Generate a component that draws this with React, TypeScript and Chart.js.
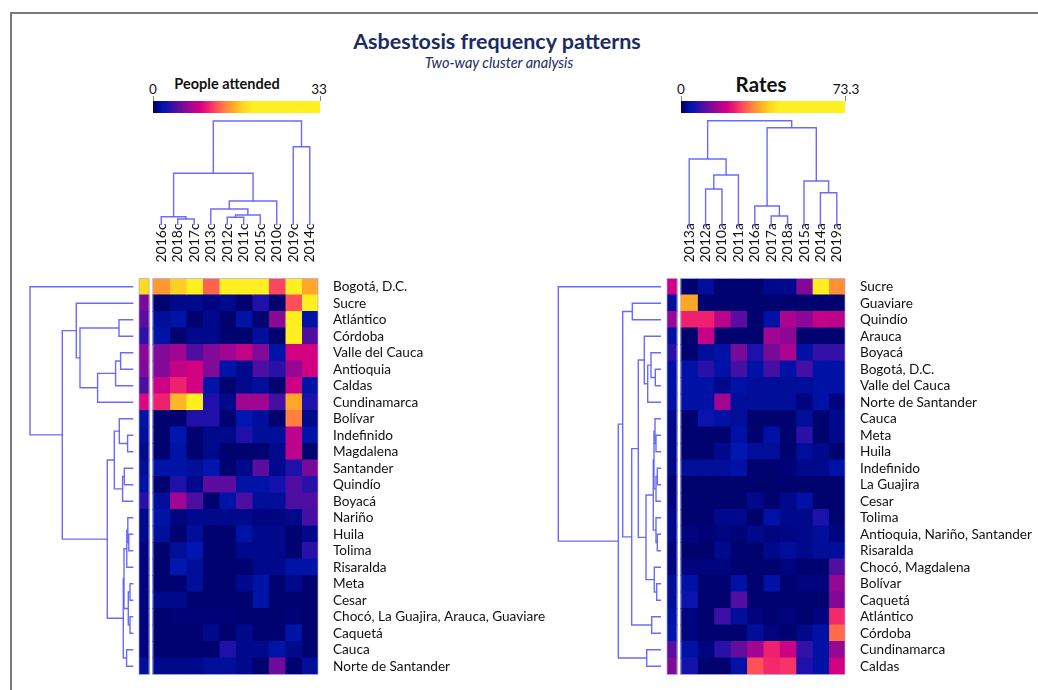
import React, { useEffect, useRef } from "react";
import { Chart, registerables } from "chart.js";

Chart.register(...registerables);
Chart.defaults.font.family = "Lato, 'DejaVu Sans', sans-serif";

// ---------------- DATA ----------------
const peopleRows = [
  "Bogotá, D.C.", "Sucre", "Atlántico", "Córdoba", "Valle del Cauca", "Antioquia", "Caldas",
  "Cundinamarca", "Bolívar", "Indefinido", "Magdalena", "Santander", "Quindío", "Boyacá", "Nariño",
  "Huila", "Tolima", "Risaralda", "Meta", "Cesar", "Chocó, La Guajira, Arauca, Guaviare", "Caquetá",
  "Cauca", "Norte de Santander",
];
const peopleCols = ["2016c", "2018c", "2017c", "2013c", "2012c", "2011c", "2015c", "2010c", "2019c", "2014c"];
const peopleMax = 33;
const peopleRowSummary = [18.2, 5.9, 5, 3.6, 6.6, 6.3, 4.6, 9.6, 1.7, 1.3, 1, 1.3, 1.7, 3.3, 1, 1, 0.7, 0.7, 0.7, 0.7, 0.7, 0.7, 0.7, 1.3];
const peopleValues = [
  [15.2, 17.5, 21, 13.2, 24, 26, 23, 12.2, 22, 15.8],
  [0.3, 1, 1, 0.7, 1, 0.3, 3, 0.3, 12.5, 21],
  [1.3, 1.7, 0.3, 1, 0.3, 1.7, 0.3, 6.6, 22, 1.7],
  [1.7, 0.3, 1, 1, 0.3, 0.3, 1.3, 0.3, 21, 4.6],
  [6.3, 7.3, 4.6, 6.3, 7.3, 8.6, 6.3, 1.7, 9.2, 9.2],
  [6.3, 8.6, 9.2, 6.3, 1.7, 1, 4.6, 3.3, 6.9, 9.2],
  [8.9, 10.9, 9.2, 1.7, 0.3, 1, 1.3, 0.3, 8.9, 1.7],
  [10.9, 16.5, 20, 3, 1, 7.3, 7.3, 4.3, 15.8, 3],
  [0.3, 0.3, 3, 3, 0.3, 2, 1.3, 0.3, 14.2, 1],
  [0.3, 2, 0.3, 1, 1, 3, 1.3, 1.3, 8.3, 1.7],
  [0.3, 1.7, 0.3, 1, 0.3, 0.3, 0.3, 1, 8.3, 0.3],
  [1.7, 1.7, 1.3, 2, 0.3, 1, 5, 1, 3, 5.9],
  [0.3, 3, 1, 5, 5, 1.7, 1.7, 2.6, 4.6, 3.3],
  [1.3, 7.3, 4.6, 0.3, 1.7, 4.6, 1.3, 1.3, 4.6, 4.6],
  [1.7, 0.7, 1, 1, 1, 1, 0.7, 0.7, 1, 4.3],
  [1.3, 0.3, 1.3, 0.3, 0.3, 1.7, 1, 1, 0.3, 1],
  [0.3, 1.3, 2, 0.3, 0.3, 1, 1, 1, 0.3, 3.3],
  [0.3, 2, 1.3, 0.3, 0.3, 0.3, 1, 1, 1.7, 1.7],
  [0.3, 0.3, 1.3, 0.3, 0.3, 1, 1.7, 0.3, 1, 0.3],
  [1, 1, 0.3, 0.3, 0.3, 0.3, 1.7, 0.3, 0.3, 0.3],
  [0.3, 0.5, 0.5, 0.5, 0.5, 0.3, 0.3, 0.3, 0.5, 0.3],
  [0.3, 0.3, 0.3, 1, 0.2, 1, 0.3, 0.3, 1.7, 0.3],
  [0.3, 0.3, 0.3, 0.3, 3, 1, 1, 1.7, 1, 0.3],
  [1, 1, 1, 1.3, 1.3, 1, 0.3, 5.6, 0.3, 1.3],
];

const rateRows = [
  "Sucre", "Guaviare", "Quindío", "Arauca", "Boyacá", "Bogotá, D.C.", "Valle del Cauca",
  "Norte de Santander", "Cauca", "Meta", "Huila", "Indefinido", "La Guajira", "Cesar", "Tolima",
  "Antioquia, Nariño, Santander", "Risaralda", "Chocó, Magdalena", "Bolívar", "Caquetá", "Atlántico",
  "Córdoba", "Cundinamarca", "Caldas",
];
const rateCols = ["2013a", "2012a", "2010a", "2011a", "2016a", "2017a", "2018a", "2015a", "2014a", "2019a"];
const rateMax = 73.3;
const rateRowSummary = [19.8, 2.9, 15.4, 3.7, 7.3, 3.7, 3.7, 3.7, 2.2, 2.2, 2.2, 2.2, 1.1, 1.5, 2.2, 2.2, 1.5, 1.5, 2.9, 2.9, 3.7, 4.4, 11, 13.9];
const rateValues = [
  [0.7, 2.9, 0.7, 0.7, 0.7, 2.2, 2.2, 13.9, 45, 33],
  [35.2, 0.7, 0.7, 0.7, 0.7, 0.7, 0.7, 0.7, 0.7, 0.7],
  [24.2, 24.2, 18.3, 11, 0.7, 3.7, 16.9, 14.7, 19.1, 18.3],
  [0.7, 19.1, 0.7, 0.7, 0.7, 16.1, 14.7, 0.7, 0.7, 0.7],
  [0.7, 2.9, 3.7, 13.2, 6.6, 13.2, 16.9, 3.7, 8.1, 8.1],
  [3.7, 7.3, 3.7, 9.5, 3.7, 9.5, 3.7, 9.5, 3.7, 3.7],
  [3.7, 3.7, 2.2, 3.7, 2.9, 2.9, 2.9, 2.9, 3.7, 3.7],
  [3.7, 3.7, 16.1, 2.9, 2.9, 2.9, 2.9, 1.5, 3.7, 1.5],
  [0.7, 5.1, 3.7, 2.9, 0.7, 0.7, 0.7, 2.9, 0.7, 2.2],
  [0.7, 0.7, 0.7, 3.7, 0.7, 3.7, 0.7, 7.3, 0.7, 2.2],
  [0.7, 0.7, 2.2, 4.4, 2.9, 2.9, 0.7, 2.9, 2.2, 0.7],
  [2.9, 2.9, 2.9, 3.7, 0.7, 0.7, 1.1, 2.2, 2.2, 3.7],
  [0.6, 0.6, 0.6, 0.6, 0.6, 0.6, 0.6, 0.6, 0.6, 0.6],
  [0.7, 0.7, 0.7, 0.7, 2.2, 0.7, 2.2, 3.7, 0.7, 0.7],
  [0.7, 0.7, 2.2, 2.2, 0.4, 3.7, 2.2, 2.2, 6.6, 0.7],
  [1.5, 1.1, 1.5, 1.1, 2.2, 1.5, 1.8, 2.2, 2.9, 1.5],
  [0.4, 0.4, 2.2, 0.7, 0.7, 2.2, 2.9, 2.2, 2.9, 2.9],
  [1.5, 1.5, 1.5, 0.7, 0.7, 0.7, 1.5, 0.7, 0.7, 10.3],
  [3.7, 0.7, 0.7, 3.7, 0.7, 3.7, 0.7, 1.5, 1.5, 15.4],
  [5.1, 0.7, 0.7, 10.3, 0.7, 0.7, 0.7, 0.7, 0.7, 13.9],
  [1.5, 0.7, 8.8, 2.9, 1.5, 0.7, 1.5, 0.7, 1.5, 24.9],
  [1.5, 0.7, 0.7, 0.7, 2.9, 1.5, 0.7, 2.2, 3.7, 30],
  [3.7, 1.5, 7.3, 11.7, 16.1, 24.2, 19.8, 8.1, 3.7, 15.4],
  [5.9, 0.7, 0.7, 3.7, 27.9, 24.9, 25.7, 6.6, 3.7, 20.5],
];

// Dendrograms: [left, right, mergeHeight]; numbers are leaf positions in display order
type Node = number | [Node, Node, number];

const peopleColTree: Node = [
  [[0, [1, 2, 6], 8.3], [[3, [[4, 5, 7.7], 6, 10], 16], 7, 24], 51.7],
  [8, 9, 78.3],
  104,
];
const rateColTree: Node = [
  [0, [[1, 2, 37.7], 3, 51.7], 67.7],
  [[4, [5, 6, 10.7], 20.7], [7, [8, 9, 34], 45.7], 99],
  106,
];
const peopleRowTree: Node = [
  0,
  [
    [1, [[2, 3, 14.3], [[[4, 5, 12.7], 6, 17.7], 7, 35.7], 53.3], 57],
    [
      [[8, [9, 10, 5.7], 14], [[11, 12, 9], 13, 10.7], 19],
      [[[[14, [15, 16, 4.5], 5.5], 17, 6.5], [[18, 19, 3.3], [20, 21, 3.3], 5], 9.3], [22, 23, 6.7], 10],
      26,
    ],
    71,
  ],
  103.3,
];
const rateRowTree: Node = [
  0,
  [
    [
      [1, 2, 28.7],
      [
        [
          [3, [[4, [5, 6, 5.7], 10], 7, 13.3], 16.7],
          [
            [[[8, [9, 10, 5], 6], [[11, 12, 3.7], 13, 5], 7], [14, [15, 16, 3.7], 5], 7.7],
            [17, [18, 19, 4.3], 6.7],
            15,
          ],
          22.7,
        ],
        [20, 21, 9.3],
        29.3,
      ],
      38.3,
    ],
    [22, 23, 14.3],
    42.7,
  ],
  102.7,
];

// ---------------- COLOURS ----------------
const STOPS: [number, number[]][] = [
  [0, [0, 0, 100]],
  [0.02, [0, 4, 125]],
  [0.04, [0, 14, 155]],
  [0.06, [0, 22, 175]],
  [0.09, [30, 16, 170]],
  [0.12, [60, 16, 165]],
  [0.16, [100, 12, 158]],
  [0.2, [140, 8, 150]],
  [0.24, [180, 4, 142]],
  [0.28, [212, 0, 130]],
  [0.33, [240, 32, 112]],
  [0.38, [255, 80, 90]],
  [0.43, [255, 128, 64]],
  [0.48, [255, 168, 40]],
  [0.54, [255, 215, 32]],
  [0.6, [255, 238, 32]],
  [1, [255, 240, 32]],
];
function colorAt(t: number): string {
  const v = Math.max(0, Math.min(1, t));
  for (let i = 1; i < STOPS.length; i++) {
    const [t1, c1] = STOPS[i];
    const [t0, c0] = STOPS[i - 1];
    if (v <= t1) {
      const f = (v - t0) / (t1 - t0 || 1);
      const c = c0.map((x, k) => Math.round(x + (c1[k] - x) * f));
      return `rgb(${c[0]},${c[1]},${c[2]})`;
    }
  }
  const c = STOPS[STOPS.length - 1][1];
  return `rgb(${c[0]},${c[1]},${c[2]})`;
}
const gradientCss =
  "linear-gradient(to right, " + STOPS.map(([t]) => `${colorAt(t)} ${(t * 100).toFixed(1)}%`).join(", ") + ")";

const FONT = "Lato, 'DejaVu Sans', sans-serif";
const LINE_COLOR = "rgba(90,90,255,0.9)";
const TEXT_COLOR = "#111";
const TITLE_COLOR = "#1b2b63";
const SUM_X0 = -0.85;
const SUM_X1 = -0.245;

// ---------------- CHART BUILDERS ----------------
type Pt = { pos: number; h: number };
function buildLinks(node: Node, out: Pt[][]): Pt {
  if (typeof node === "number") return { pos: node + 0.5, h: 0 };
  const a = buildLinks(node[0], out);
  const b = buildLinks(node[1], out);
  out.push([a, { pos: a.pos, h: node[2] }, { pos: b.pos, h: node[2] }, b]);
  return { pos: (a.pos + b.pos) / 2, h: node[2] };
}

function dendroConfig(tree: Node, nLeaves: number, orient: "top" | "left", padding: any) {
  const links: Pt[][] = [];
  const root = buildLinks(tree, links);
  const datasets = links.map((pts) => ({
    data: pts.map((p) => (orient === "top" ? { x: p.pos, y: p.h } : { x: p.h, y: p.pos })),
    showLine: true,
    borderColor: LINE_COLOR,
    borderWidth: 1.4,
    pointRadius: 0,
    pointHoverRadius: 0,
    fill: false,
    tension: 0,
    clip: false,
  }));
  const scales =
    orient === "top"
      ? {
          x: { type: "linear", display: false, min: 0, max: nLeaves },
          y: { type: "linear", display: false, min: 0, max: root.h },
        }
      : {
          x: { type: "linear", display: false, min: 0, max: root.h, reverse: true },
          y: { type: "linear", display: false, min: 0, max: nLeaves, reverse: true },
        };
  return {
    type: "scatter",
    data: { datasets },
    options: {
      animation: false,
      responsive: false,
      devicePixelRatio: 1,
      events: [],
      layout: { padding },
      plugins: { legend: { display: false }, tooltip: { enabled: false } },
      scales,
    },
  };
}

function heatmapConfig(
  rows: string[],
  cols: string[],
  values: number[][],
  summary: number[],
  max: number,
  yAxisWidth: number
) {
  const common = {
    grouped: false,
    barPercentage: 1,
    categoryPercentage: 1,
    borderWidth: 0,
    inflateAmount: 0.5,
  };
  const datasets: any[] = [
    {
      ...common,
      data: rows.map(() => [SUM_X0, SUM_X1]),
      backgroundColor: summary.map((v) => colorAt(v / max)),
    },
  ];
  cols.forEach((_, j) => {
    datasets.push({
      ...common,
      data: rows.map(() => [j, j + 1]),
      backgroundColor: rows.map((_, i) => colorAt(values[i][j] / max)),
    });
  });
  const decor = {
    id: "decor",
    afterDraw(chart: any) {
      const { ctx, chartArea, scales } = chart;
      ctx.save();
      ctx.strokeStyle = "rgba(170,170,235,0.7)";
      ctx.lineWidth = 1;
      const x0 = scales.x.getPixelForValue(SUM_X0);
      const x1 = scales.x.getPixelForValue(SUM_X1);
      const x2 = scales.x.getPixelForValue(0);
      const x3 = scales.x.getPixelForValue(cols.length);
      ctx.strokeRect(x0, chartArea.top, x1 - x0, chartArea.bottom - chartArea.top);
      ctx.strokeRect(x2, chartArea.top, x3 - x2, chartArea.bottom - chartArea.top);
      // column labels, rotated, read bottom to top
      ctx.fillStyle = TEXT_COLOR;
      ctx.font = `14px ${FONT}`;
      ctx.textAlign = "left";
      ctx.textBaseline = "middle";
      cols.forEach((c, j) => {
        const x = scales.x.getPixelForValue(j + 0.5);
        ctx.save();
        ctx.translate(x, chartArea.top - 16);
        ctx.rotate(-Math.PI / 2);
        ctx.fillText(c, 0, 0);
        ctx.restore();
      });
      ctx.restore();
    },
  };
  return {
    type: "bar",
    data: { labels: rows, datasets },
    plugins: [decor],
    options: {
      indexAxis: "y",
      animation: false,
      responsive: false,
      devicePixelRatio: 1,
      events: [],
      layout: { padding: { left: 9, right: 0, top: 78.5, bottom: 5.5 } },
      plugins: { legend: { display: false }, tooltip: { enabled: false } },
      scales: {
        x: {
          type: "linear",
          display: false,
          min: SUM_X0,
          max: cols.length,
        },
        y: {
          type: "category",
          position: "right",
          grid: { display: false, drawTicks: false },
          border: { display: false },
          afterFit: (s: any) => {
            s.width = yAxisWidth;
            s.paddingTop = 0;
            s.paddingBottom = 0;
          },
          ticks: { autoSkip: false, padding: 15, color: TEXT_COLOR, font: { size: 13.6 } },
        },
      },
    },
  };
}

// ---------------- COMPONENTS ----------------
function ChartBox(props: { left: number; top: number; width: number; height: number; make: () => any }) {
  const ref = useRef<HTMLCanvasElement>(null);
  useEffect(() => {
    const chart = new Chart(ref.current as HTMLCanvasElement, props.make());
    return () => chart.destroy();
  }, []);
  return (
    <canvas
      ref={ref}
      width={props.width}
      height={props.height}
      style={{ position: "absolute", left: props.left, top: props.top, width: props.width, height: props.height }}
    />
  );
}

function Label(props: { cx: number; cy: number; text: string; size: number; bold?: boolean; italic?: boolean; color?: string }) {
  const h = props.size * 1.4;
  return (
    <div
      style={{
        position: "absolute",
        left: props.cx - 200,
        width: 400,
        top: props.cy - h / 2,
        height: h,
        lineHeight: `${h}px`,
        textAlign: "center",
        fontSize: props.size,
        fontWeight: props.bold ? 700 : 400,
        fontStyle: props.italic ? "italic" : "normal",
        color: props.color || TEXT_COLOR,
        whiteSpace: "nowrap",
      }}
    >
      {props.text}
    </div>
  );
}

function ColorBar(props: { x0: number; x1: number; top: number }) {
  const tick = (x: number) => (
    <div style={{ position: "absolute", left: x - 0.5, top: props.top - 5, width: 1, height: 5, background: "#888" }} />
  );
  return (
    <>
      <div
        style={{
          position: "absolute",
          left: props.x0,
          top: props.top,
          width: props.x1 - props.x0,
          height: 12,
          background: gradientCss,
        }}
      />
      {tick(props.x0)}
      {tick(props.x1)}
    </>
  );
}

export default function App() {
  return (
    <div
      style={{
        position: "fixed",
        left: 0,
        top: 0,
        width: 1038,
        height: 690,
        overflow: "hidden",
        background: "#fff",
        fontFamily: FONT,
      }}
    >
      <div
        style={{
          position: "absolute",
          left: 10,
          top: 12,
          width: 1200,
          height: 900,
          borderLeft: "2px solid #7a7a7a",
          borderTop: "2px solid #7a7a7a",
        }}
      />
      <Label cx={497} cy={41} text="Asbestosis frequency patterns" size={21.5} bold color={TITLE_COLOR} />
      <Label cx={499} cy={63} text="Two-way cluster analysis" size={14.5} italic color={TITLE_COLOR} />

      <ColorBar x0={153} x1={320} top={101} />
      <Label cx={153} cy={89} text="0" size={13.5} />
      <Label cx={227} cy={84} text="People attended" size={14.5} bold />
      <Label cx={319} cy={89} text="33" size={13.5} />

      <ColorBar x0={681} x1={845} top={101} />
      <Label cx={681} cy={89} text="0" size={13.5} />
      <Label cx={761} cy={84} text="Rates" size={20.5} bold />
      <Label cx={846} cy={89} text="73.3" size={13.5} />

      <ChartBox
        left={130}
        top={200}
        width={440}
        height={480}
        make={() => heatmapConfig(peopleRows, peopleCols, peopleValues, peopleRowSummary, peopleMax, 252)}
      />
      <ChartBox
        left={658}
        top={200}
        width={380}
        height={480}
        make={() => heatmapConfig(rateRows, rateCols, rateValues, rateRowSummary, rateMax, 193)}
      />
      <ChartBox
        left={143}
        top={111}
        width={185}
        height={124}
        make={() => dendroConfig(peopleColTree, peopleCols.length, "top", { left: 10, right: 10, top: 10, bottom: 10 })}
      />
      <ChartBox
        left={671}
        top={110}
        width={184}
        height={127}
        make={() => dendroConfig(rateColTree, rateCols.length, "top", { left: 10, right: 10, top: 10.7, bottom: 10.3 })}
      />
      <ChartBox
        left={20}
        top={268}
        width={124}
        height={417}
        make={() => dendroConfig(peopleRowTree, peopleRows.length, "left", { left: 10, right: 10.7, top: 10.5, bottom: 10.5 })}
      />
      <ChartBox
        left={548}
        top={268}
        width={124}
        height={417}
        make={() => dendroConfig(rateRowTree, rateRows.length, "left", { left: 10.3, right: 11, top: 10.5, bottom: 10.5 })}
      />
    </div>
  );
}
